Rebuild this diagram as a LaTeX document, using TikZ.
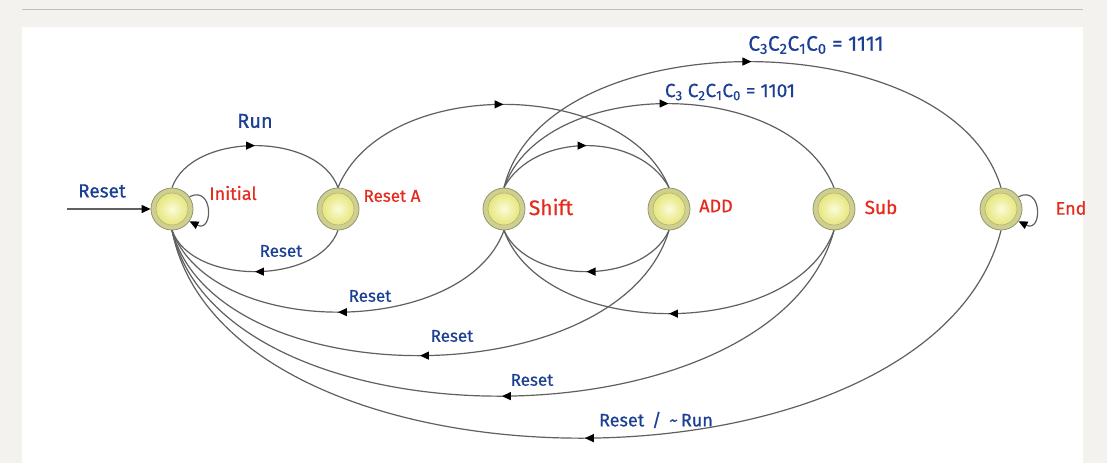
\documentclass[tikz,border=0pt]{standalone}
\usepackage{fontspec}
\setmainfont{Fira Sans}
\newfontfamily\handfont[FakeBold=0.6]{Fira Sans}
\usetikzlibrary{arrows.meta,decorations.markings}
\definecolor{pagebg}{HTML}{F4F2EE}
\definecolor{rulec}{HTML}{C4C0B8}
\definecolor{edgec}{HTML}{606060}
\definecolor{lblue}{HTML}{1B3F94}
\definecolor{lred}{HTML}{E62A1E}
\definecolor{ringc}{HTML}{CFCF8E}
\definecolor{ringd}{HTML}{949470}
\definecolor{yin}{HTML}{FBFBDA}
\definecolor{yout}{HTML}{E0E05E}
\tikzset{
  state/.style={circle, minimum size=42pt, inner sep=0pt, draw=ringd, line width=0.8pt, fill=ringc,
    path picture={\shade[inner color=yin, outer color=yout] (path picture bounding box.center) circle (16pt);
      \draw[ringd!80, line width=0.5pt] (path picture bounding box.center) circle (16pt);}},
  edge/.style={draw=edgec, line width=1.2pt},
  midarrow/.style={postaction={decorate}, decoration={markings, mark=at position 0.5 with {\arrow{Triangle[length=9pt,width=8pt,color=black]}}}},
  tip/.style={-{Triangle[length=9pt,width=8pt,color=black]}},
  bluelbl/.style={text=lblue, font=\handfont\fontsize{17}{19}\selectfont, inner sep=0pt},
  redlbl/.style={text=lred, font=\handfont\fontsize{18}{20}\selectfont, inner sep=0pt},
}
\begin{document}
\begin{tikzpicture}[x=1pt,y=-1pt]
\useasboundingbox (0,0) rectangle (1107,463);
\fill[pagebg] (0,0) rectangle (1107,463);
\fill[white] (22,27) rectangle (1083,463);
\draw[rulec, line width=1.2pt] (22,9.5) -- (1083,9.5);

% states
\node[state] (init) at (172,209) {};
\node[state] (resA) at (338,209) {};
\node[state] (shift) at (504,209) {};
\node[state] (add) at (669,209) {};
\node[state] (sub) at (834,209) {};
\node[state] (endst) at (1001,209) {};

% state names
\node[redlbl] (linit) at (233,193) {Initial};
\node[redlbl, font=\handfont\fontsize{17}{19}\selectfont] (lresA) at (392,196) {Reset A};
\node[redlbl, font=\handfont\fontsize{21}{23}\selectfont] (lshift) at (551,207) {Shift};
\node[redlbl] (ladd) at (716,206) {ADD};
\node[redlbl, font=\handfont\fontsize{19}{21}\selectfont] (lsub) at (881,207) {Sub};
\node[redlbl] (lend) at (1071,208) {End};

% entry
\coordinate (start) at (67,209);
\draw[edge, tip] (start) -- (init.west);
\node[bluelbl, font=\handfont\fontsize{19}{21}\selectfont] (lentry) at (102,191) {Reset};

% self loops
\draw[edge, tip] (init.35) .. controls +(24,-12) and +(24,12) .. (init.-35);
\draw[edge, tip] (endst.35) .. controls +(24,-12) and +(24,12) .. (endst.-35);

% upper arcs
\draw[edge, midarrow] (init.north) .. controls +(20,-56) and +(-20,-56) .. (resA.north);
\draw[edge, midarrow] (resA.north) .. controls +(45,-111) and +(-45,-111) .. (add.north);
\draw[edge, midarrow] (shift.north) .. controls +(30,-56) and +(-30,-56) .. (add.north);
\draw[edge, midarrow] (shift.north) .. controls +(40,-112) and +(-45,-112) .. (sub.north);
\draw[edge, midarrow] (shift.north) .. controls +(40,-168) and +(-50,-168) .. (endst.north);

% lower arcs
\draw[edge, midarrow] (resA.south) .. controls +(-20,55) and +(20,55) .. (init.south);
\draw[edge, midarrow] (shift.south) .. controls +(-40,109) and +(40,109) .. (init.south);
\draw[edge, midarrow] (add.south) .. controls +(-50,167) and +(45,167) .. (init.south);
\draw[edge, midarrow] (sub.south) .. controls +(-60,221) and +(50,221) .. (init.south);
\draw[edge, midarrow] (endst.south) .. controls +(-70,277) and +(55,277) .. (init.south);
\draw[edge, midarrow] (add.south) .. controls +(-25,55) and +(25,55) .. (shift.south);
\draw[edge, midarrow] (sub.south) .. controls +(-40,111) and +(40,111) .. (shift.south);

% edge labels
\node[bluelbl, font=\handfont\fontsize{20}{22}\selectfont] (lrun) at (255,121) {Run};
\node[bluelbl] (lr1) at (281,251) {Reset};
\node[bluelbl] (lr2) at (370,296) {Reset};
\node[bluelbl] (lr3) at (452,336) {Reset};
\node[bluelbl] (lr4) at (532,380) {Reset};
\node[bluelbl, font=\handfont\fontsize{18}{20}\selectfont] (lr5) at (656,420) {Reset\, /\, \textasciitilde\,Run};
\node[bluelbl, font=\handfont\fontsize{19}{21}\selectfont] (lc1) at (730,92) {C\textsubscript{3} C\textsubscript{2}C\textsubscript{1}C\textsubscript{0} = 1101};
\node[bluelbl, font=\handfont\fontsize{21}{23}\selectfont] (lc2) at (816,45) {C\textsubscript{3}C\textsubscript{2}C\textsubscript{1}C\textsubscript{0} = 1111};
\end{tikzpicture}
\end{document}
